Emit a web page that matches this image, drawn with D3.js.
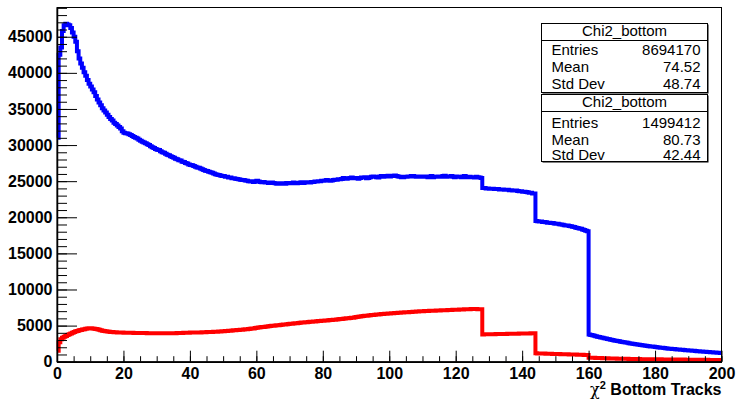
<!DOCTYPE html>
<html>
<head>
<meta charset="utf-8">
<script src="https://cdn.jsdelivr.net/npm/d3@7"></script>
<style>
  html, body { margin: 0; padding: 0; background: #fff; }
  svg { display: block; }
</style>
</head>
<body>
<svg id="chart" width="738" height="399"></svg>
<script>
// Histogram range: 400 bins of width 0.5 over [0, 200]
const xRange = [0, 200];

// Chi2_bottom (all tracks), bin contents, two bins per unit of chi2
const countsAll = [
  31000, 42500, 43500, 45800, 46600, 46800, 46700, 46600, 46200, 45600,
  45000, 44300, 43000, 42000, 41300, 40700, 40100, 39600, 39000, 38500,
  38100, 37700, 37300, 36800, 36300, 35900, 35500, 35100, 34800, 34500,
  34200, 33900, 33600, 33400, 33100, 32900, 32700, 32500, 32300, 31900,
  31700, 31650, 31600, 31500, 31400, 31250, 31100, 31000, 30900, 30750,
  30600, 30450, 30350, 30250, 30100, 30000, 29850, 29700, 29600, 29450,
  29350, 29300, 29150, 29000, 28950, 28800, 28650, 28600, 28450, 28350,
  28250, 28100, 28050, 27900, 27850, 27700, 27650, 27500, 27450, 27300,
  27250, 27200, 27100, 27000, 26900, 26850, 26750, 26650, 26550, 26450,
  26400, 26300, 26250, 26150, 26050, 25950, 25900, 25850, 25800, 25700,
  25700, 25600, 25600, 25500, 25500, 25400, 25400, 25350, 25300, 25250,
  25200, 25150, 25150, 25100, 25050, 25000, 24950, 25000, 24900, 24950,
  25050, 24950, 24900, 24850, 24900, 24800, 24800, 24750, 24750, 24800,
  24750, 24700, 24650, 24700, 24650, 24700, 24700, 24650, 24750, 24700,
  24700, 24750, 24800, 24700, 24700, 24750, 24800, 24850, 24750, 24800,
  24850, 24850, 24800, 24900, 24900, 24950, 24950, 25000, 25000, 25050,
  25050, 25100, 25150, 25100, 25050, 25100, 25150, 25200, 25200, 25250,
  25250, 25300, 25450, 25400, 25350, 25400, 25450, 25500, 25400, 25450,
  25400, 25350, 25450, 25500, 25500, 25550, 25400, 25450, 25550, 25600,
  25650, 25600, 25550, 25500, 25650, 25700, 25600, 25650, 25700, 25750,
  25650, 25700, 25750, 25800, 25700, 25650, 25600, 25550, 25550, 25600,
  25600, 25650, 25650, 25700, 25700, 25650, 25600, 25650, 25650, 25600,
  25600, 25650, 25600, 25550, 25650, 25700, 25550, 25600, 25600, 25650,
  25650, 25600, 25700, 25750, 25600, 25650, 25650, 25700, 25600, 25550,
  25650, 25600, 25600, 25550, 25650, 25700, 25550, 25600, 25600, 25550,
  25550, 25500, 25600, 25550, 25500, 25450, 24050, 24050, 24000, 24000,
  23950, 23950, 23950, 23900, 23900, 23900, 23850, 23850, 23850, 23800,
  23800, 23800, 23750, 23750, 23700, 23700, 23700, 23650, 23600, 23600,
  23550, 23550, 23500, 23450, 23400, 23400, 23300, 23300, 19500, 19450,
  19400, 19400, 19350, 19350, 19300, 19250, 19250, 19200, 19200, 19150,
  19100, 19100, 19050, 19000, 18950, 18900, 18850, 18850, 18800, 18750,
  18700, 18650, 18550, 18500, 18450, 18400, 18300, 18250, 18150, 18050,
  3780, 3700, 3650, 3600, 3530, 3470, 3410, 3360, 3300, 3250,
  3200, 3150, 3100, 3050, 3000, 2950, 2900, 2860, 2820, 2780,
  2730, 2690, 2650, 2610, 2570, 2530, 2490, 2460, 2420, 2390,
  2350, 2320, 2280, 2250, 2210, 2180, 2150, 2120, 2090, 2060,
  2030, 2000, 1970, 1940, 1920, 1890, 1860, 1840, 1810, 1790,
  1770, 1750, 1720, 1700, 1680, 1660, 1640, 1620, 1600, 1580,
  1560, 1540, 1520, 1500, 1480, 1460, 1440, 1420, 1410, 1390,
  1370, 1350, 1330, 1310, 1300, 1280, 1270, 1250, 1240, 1220
];

// Chi2_bottom (selected tracks), bin contents, two bins per unit of chi2
const countsSel = [
  1500, 2700, 3100, 3300, 3450, 3550, 3700, 3800, 3900, 4000,
  4100, 4200, 4250, 4350, 4400, 4450, 4500, 4550, 4600, 4620,
  4630, 4600, 4580, 4520, 4480, 4420, 4350, 4300, 4250, 4200,
  4170, 4150, 4120, 4100, 4080, 4070, 4050, 4040, 4030, 4030,
  4020, 4020, 4010, 4010, 4000, 4000, 3990, 3990, 3980, 3980,
  3970, 3970, 3960, 3960, 3950, 3950, 3940, 3940, 3935, 3935,
  3930, 3930, 3930, 3930, 3930, 3930, 3935, 3935, 3940, 3940,
  3950, 3950, 3960, 3970, 3980, 3990, 4000, 4005, 4010, 4020,
  4030, 4030, 4040, 4040, 4050, 4055, 4060, 4070, 4080, 4090,
  4100, 4110, 4120, 4130, 4140, 4150, 4160, 4175, 4190, 4205,
  4220, 4240, 4260, 4280, 4300, 4320, 4340, 4360, 4380, 4400,
  4420, 4440, 4460, 4485, 4510, 4535, 4560, 4585, 4610, 4650,
  4700, 4730, 4760, 4790, 4820, 4850, 4880, 4910, 4940, 4965,
  4990, 5015, 5040, 5065, 5090, 5115, 5140, 5165, 5190, 5215,
  5240, 5265, 5290, 5315, 5340, 5365, 5390, 5415, 5440, 5460,
  5480, 5500, 5520, 5540, 5560, 5580, 5600, 5620, 5640, 5660,
  5680, 5700, 5720, 5740, 5760, 5780, 5800, 5825, 5850, 5875,
  5900, 5925, 5950, 5975, 6000, 6025, 6050, 6075, 6100, 6150,
  6200, 6230, 6260, 6290, 6320, 6350, 6380, 6405, 6430, 6455,
  6480, 6505, 6530, 6550, 6570, 6590, 6610, 6630, 6650, 6670,
  6690, 6705, 6720, 6735, 6750, 6770, 6790, 6805, 6820, 6835,
  6850, 6865, 6880, 6895, 6910, 6925, 6940, 6955, 6970, 6985,
  7000, 7010, 7020, 7030, 7040, 7050, 7060, 7070, 7080, 7090,
  7100, 7110, 7120, 7130, 7140, 7150, 7160, 7170, 7180, 7190,
  7200, 7210, 7220, 7230, 7240, 7250, 7260, 7270, 7280, 7290,
  7300, 7300, 7290, 7280, 7260, 7250, 3780, 3785, 3790, 3795,
  3800, 3805, 3810, 3815, 3820, 3825, 3830, 3835, 3840, 3845,
  3850, 3855, 3860, 3865, 3870, 3875, 3880, 3885, 3890, 3895,
  3900, 3905, 3910, 3915, 3920, 3925, 3930, 3930, 1160, 1150,
  1140, 1135, 1130, 1120, 1110, 1105, 1100, 1090, 1080, 1075,
  1070, 1060, 1050, 1045, 1040, 1030, 1020, 1015, 1010, 1000,
  990, 985, 980, 970, 960, 955, 950, 940, 930, 925,
  560, 550, 540, 530, 520, 510, 505, 500, 490, 480,
  475, 470, 460, 450, 445, 440, 430, 425, 420, 415,
  410, 405, 400, 395, 390, 385, 380, 375, 370, 365,
  360, 355, 350, 348, 345, 343, 340, 338, 335, 333,
  330, 328, 325, 323, 320, 318, 315, 313, 310, 308,
  305, 303, 300, 298, 295, 293, 290, 288, 285, 283,
  280, 278, 275, 273, 270, 268, 265, 263, 260, 258,
  255, 253, 250, 248, 245, 243, 240, 238, 235, 233
];

// Axis tick values
const xMajorTicks = [0, 20, 40, 60, 80, 100, 120, 140, 160, 180, 200];
const yMajorTicks = [0, 5000, 10000, 15000, 20000, 25000, 30000, 35000, 40000, 45000];
const yMax = 49050;
const xTitle = "Bottom Tracks";

// Statistics boxes
const statTitles = ["Chi2_bottom", "Chi2_bottom"];
const statLabels = ["Entries", "Mean", "Std Dev"];
const statValuesAll = ["8694170", "74.52", "48.74"];
const statValuesSel = ["1499412", "80.73", "42.44"];

// ---------------------------------------------------------------
const W = 738, H = 399;
const margin = { left: 57, right: 16.5, top: 7.5, bottom: 37.3 };
const svg = d3.select("#chart");
const font = "'Liberation Sans', Arial, Helvetica, sans-serif";

const x = d3.scaleLinear().domain(xRange).range([margin.left, W - margin.right]);
const y = d3.scaleLinear().domain([0, yMax]).range([H - margin.bottom, margin.top]);

svg.append("rect").attr("width", W).attr("height", H).attr("fill", "#fff");

// Histogram outline as a step path
function stepPath(counts) {
  const n = counts.length;
  const w = (xRange[1] - xRange[0]) / n;
  const pts = [];
  counts.forEach((c, i) => {
    pts.push([xRange[0] + i * w, c]);
    pts.push([xRange[0] + (i + 1) * w, c]);
  });
  return d3.line().x(d => x(d[0])).y(d => y(d[1]))(pts);
}

const plot = svg.append("g");
plot.append("path")
  .attr("d", stepPath(countsAll))
  .attr("fill", "none").attr("stroke", "#0000ff")
  .attr("stroke-width", 4).attr("stroke-linejoin", "miter");
plot.append("path")
  .attr("d", stepPath(countsSel))
  .attr("fill", "none").attr("stroke", "#ff0000")
  .attr("stroke-width", 4).attr("stroke-linejoin", "miter");

// Frame
svg.append("rect")
  .attr("x", x(xRange[0])).attr("y", y(yMax))
  .attr("width", x(xRange[1]) - x(xRange[0]))
  .attr("height", y(0) - y(yMax))
  .attr("fill", "none").attr("stroke", "#000").attr("stroke-width", 1);

// Y axis: major and minor ticks pointing into the frame
const yMinor = d3.range(0, yMax, 1000);
svg.append("g")
  .attr("transform", `translate(${x(xRange[0])},0)`)
  .call(d3.axisLeft(y).tickValues(yMinor).tickFormat("").tickSizeInner(-10).tickSizeOuter(0))
  .call(g => g.select(".domain").remove())
  .call(g => g.selectAll("line").attr("stroke", "#000"));
svg.append("g")
  .attr("transform", `translate(${x(xRange[0])},0)`)
  .call(d3.axisLeft(y).tickValues(yMajorTicks).tickFormat(d3.format("d")).tickSizeInner(-20).tickSizeOuter(0).tickPadding(4.5))
  .call(g => g.select(".domain").attr("stroke", "#000").attr("stroke-width", 1.5))
  .call(g => g.selectAll("line").attr("stroke", "#000"))
  .call(g => g.selectAll("text")
    .attr("fill", "#000").attr("font-family", font)
    .attr("font-size", 16).attr("font-weight", "bold"));

// X axis
const xMinor = d3.range(xRange[0], xRange[1] + 0.001, 5);
svg.append("g")
  .attr("transform", `translate(0,${y(0)})`)
  .call(d3.axisBottom(x).tickValues(xMinor).tickFormat("").tickSizeInner(-5.5).tickSizeOuter(0))
  .call(g => g.select(".domain").remove())
  .call(g => g.selectAll("line").attr("stroke", "#000"));
svg.append("g")
  .attr("transform", `translate(0,${y(0)})`)
  .call(d3.axisBottom(x).tickValues(xMajorTicks).tickFormat(d3.format("d")).tickSizeInner(-11).tickSizeOuter(0).tickPadding(5.5))
  .call(g => g.select(".domain").attr("stroke", "#000").attr("stroke-width", 1.5))
  .call(g => g.selectAll("line").attr("stroke", "#000"))
  .call(g => g.selectAll("text")
    .attr("fill", "#000").attr("font-family", font)
    .attr("font-size", 16).attr("font-weight", "bold"));

// X axis title: chi^2 Bottom Tracks, right aligned
const xt = svg.append("text")
  .attr("x", x(xRange[1])).attr("y", 395)
  .attr("text-anchor", "end")
  .attr("font-family", font).attr("font-size", 16).attr("font-weight", "bold")
  .attr("fill", "#000");
xt.append("tspan").attr("font-weight", "normal").attr("font-family", "'DejaVu Serif', serif").text("χ");
xt.append("tspan").attr("dy", -6).attr("font-size", 11).text("2");
xt.append("tspan").attr("dy", 6).text(" " + xTitle);

// Statistics boxes
function statBox(top, height, title, values, rows) {
  const left = 541.5, width = 166;
  const g = svg.append("g");
  g.append("rect").attr("x", left + 1).attr("y", top + 1)
    .attr("width", width).attr("height", height).attr("fill", "#000");
  g.append("rect").attr("x", left).attr("y", top)
    .attr("width", width).attr("height", height)
    .attr("fill", "#fff").attr("stroke", "#000").attr("stroke-width", 1);
  g.append("line").attr("x1", left).attr("x2", left + width)
    .attr("y1", rows.sep).attr("y2", rows.sep).attr("stroke", "#000");
  g.append("text").attr("x", left + width / 2).attr("y", rows.title)
    .attr("text-anchor", "middle").attr("font-family", font).attr("font-size", 15)
    .attr("fill", "#000").text(title);
  statLabels.forEach((lab, i) => {
    g.append("text").attr("x", 551.5).attr("y", rows.base[i])
      .attr("font-family", font).attr("font-size", 15).attr("fill", "#000").text(lab);
    g.append("text").attr("x", 700.5).attr("y", rows.base[i])
      .attr("text-anchor", "end")
      .attr("font-family", font).attr("font-size", 15).attr("fill", "#000").text(values[i]);
  });
}
statBox(23.5, 69, statTitles[0], statValuesAll, { sep: 40.5, title: 36, base: [54.5, 72, 89] });
statBox(94.5, 67, statTitles[1], statValuesSel, { sep: 111.5, title: 107, base: [127.5, 144.5, 160] });
</script>
</body>
</html>
